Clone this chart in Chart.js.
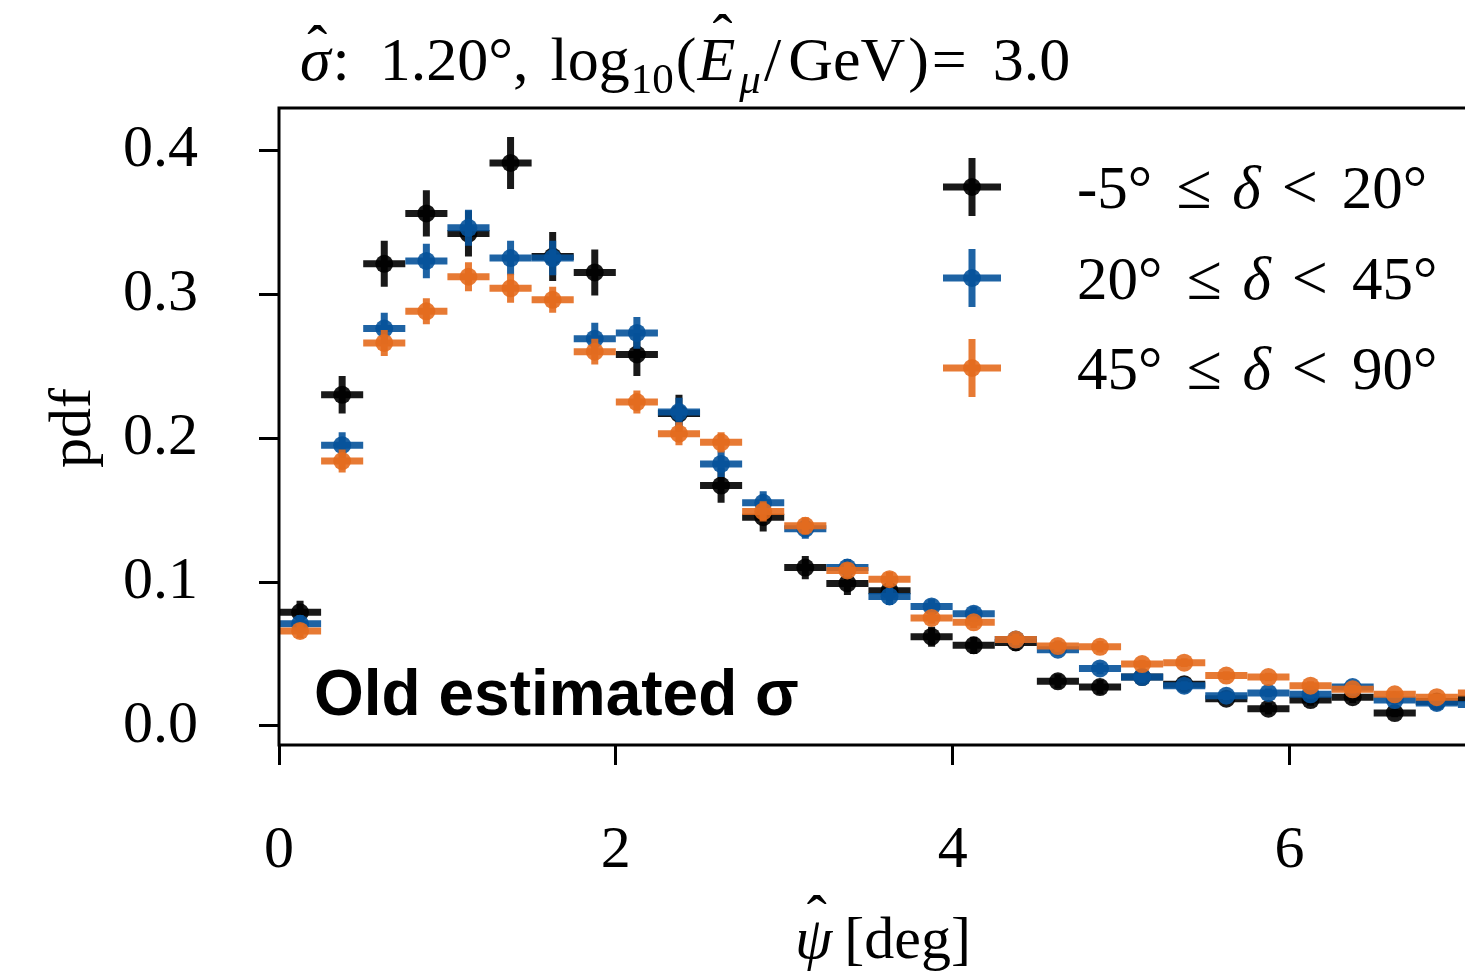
<!DOCTYPE html>
<html>
<head>
<meta charset="utf-8">
<script src="https://cdn.jsdelivr.net/npm/chart.js@4.4.1/dist/chart.umd.min.js"></script>
<style>
  html, body { margin: 0; padding: 0; background: #fff; overflow: hidden; }
  #wrap { width: 1520px; height: 975px; }
</style>
</head>
<body>
<div id="wrap"><canvas id="c" width="1520" height="975"></canvas></div>
<script>
// bin centres (deg), bins are 0.25 wide
const binCenters = [0.125, 0.375, 0.625, 0.875, 1.125, 1.375, 1.625, 1.875, 2.125, 2.375,
  2.625, 2.875, 3.125, 3.375, 3.625, 3.875, 4.125, 4.375, 4.625, 4.875,
  5.125, 5.375, 5.625, 5.875, 6.125, 6.375, 6.625, 6.875, 7.125];
const binHalf = 0.125;

// -5 <= dec < 20
const pdfLow = [0.079, 0.230, 0.321, 0.356, 0.342, 0.391, 0.326, 0.315, 0.258, 0.217,
  0.167, 0.145, 0.110, 0.099, 0.094, 0.062, 0.056, 0.058, 0.031, 0.027,
  0.034, 0.029, 0.019, 0.012, 0.018, 0.020, 0.009, 0.017, 0.019];
const errLow = [0.008, 0.013, 0.016, 0.016, 0.016, 0.018, 0.017, 0.016, 0.015, 0.013,
  0.012, 0.010, 0.008, 0.008, 0.007, 0.007, 0.006, 0.006, 0.005, 0.005,
  0.005, 0.005, 0.004, 0.004, 0.004, 0.004, 0.003, 0.004, 0.004];

// 20 <= dec < 45
const pdfMid = [0.071, 0.195, 0.276, 0.323, 0.346, 0.325, 0.325, 0.269, 0.273, 0.218,
  0.182, 0.155, 0.137, 0.110, 0.090, 0.083, 0.078, 0.060, 0.053, 0.040,
  0.034, 0.028, 0.021, 0.023, 0.022, 0.027, 0.018, 0.016, 0.015];
const errMid = [0.006, 0.009, 0.011, 0.012, 0.0125, 0.012, 0.012, 0.011, 0.011, 0.010,
  0.009, 0.008, 0.007, 0.006, 0.006, 0.005, 0.005, 0.005, 0.004, 0.004,
  0.004, 0.003, 0.003, 0.003, 0.003, 0.003, 0.003, 0.003, 0.003];

// 45 <= dec < 90
const pdfHigh = [0.066, 0.184, 0.266, 0.288, 0.312, 0.304, 0.296, 0.260, 0.225, 0.203,
  0.197, 0.149, 0.139, 0.108, 0.102, 0.075, 0.072, 0.060, 0.0555, 0.055,
  0.043, 0.044, 0.035, 0.034, 0.028, 0.0255, 0.022, 0.020, 0.023];
const errHigh = [0.005, 0.008, 0.009, 0.009, 0.010, 0.010, 0.009, 0.009, 0.008, 0.008,
  0.007, 0.007, 0.006, 0.005, 0.005, 0.004, 0.004, 0.004, 0.004, 0.004,
  0.003, 0.003, 0.003, 0.003, 0.003, 0.003, 0.002, 0.002, 0.002];

const xTicks = [0, 2, 4, 6];
const yTicks = [0.0, 0.1, 0.2, 0.3, 0.4];
const legendRanges = [["-5°", "20°"], ["20°", "45°"], ["45°", "90°"]];

const COLORS = ["rgba(0,0,0,0.9)", "rgba(5,82,154,0.9)", "rgba(228,108,30,0.9)"];
const SERIF = '"Liberation Serif", "DejaVu Serif", serif';
const f = (size, style) => `${style || ""} ${size}px ${SERIF}`;

const pts = arr => arr.map((v, i) => ({ x: binCenters[i], y: v }));

// draw a run of text pieces, each with its own font / offset
function drawRich(ctx, x, y, parts) {
  ctx.textAlign = "left";
  ctx.textBaseline = "alphabetic";
  for (const p of parts) {
    ctx.font = p.font;
    const w = ctx.measureText(p.t).width;
    ctx.fillText(p.t, x, y + (p.dy || 0));
    if (p.hat) {
      ctx.save();
      ctx.font = f(60);
      ctx.textAlign = "center";
      ctx.fillText("ˆ", x + w / 2 + (p.hatDx || 0), y + (p.dy || 0) + p.hat);
      ctx.restore();
    }
    x += w + (p.gap || 0);
  }
  return x;
}

// crosses: horizontal bin width + vertical stat error, drawn under each series' markers
const errorBars = {
  id: "errorBars",
  beforeDatasetDraw(chart, args) {
    const ds = chart.data.datasets[args.index];
    const { x: xs, y: ys } = chart.scales;
    const a = chart.chartArea;
    const ctx = chart.ctx;
    ctx.save();
    ctx.beginPath();
    ctx.rect(a.left, a.top, a.right - a.left, a.bottom - a.top);
    ctx.clip();
    ctx.strokeStyle = ds.backgroundColor;
    ctx.lineWidth = 7;
    ds.data.forEach((p, i) => {
      const e = ds.errors[i];
      ctx.beginPath();
      ctx.moveTo(xs.getPixelForValue(p.x - binHalf), ys.getPixelForValue(p.y));
      ctx.lineTo(xs.getPixelForValue(p.x + binHalf), ys.getPixelForValue(p.y));
      ctx.moveTo(xs.getPixelForValue(p.x), ys.getPixelForValue(p.y - e));
      ctx.lineTo(xs.getPixelForValue(p.x), ys.getPixelForValue(p.y + e));
      ctx.stroke();
    });
    ctx.restore();
  }
};

const decorations = {
  id: "decorations",
  afterDraw(chart) {
    const ctx = chart.ctx;
    const a = chart.chartArea;
    ctx.save();
    // spines
    ctx.strokeStyle = "#000";
    ctx.lineWidth = 3;
    ctx.beginPath();
    ctx.moveTo(a.right, a.top);
    ctx.lineTo(a.left, a.top);
    ctx.lineTo(a.left, a.bottom);
    ctx.lineTo(a.right, a.bottom);
    ctx.stroke();

    ctx.fillStyle = "#000";
    // title
    drawRich(ctx, 300, 80, [
      { t: "σ", font: f(62, "italic"), hat: -14, hatDx: 2, gap: 2 },
      { t: ":", font: f(62), gap: 30 },
      { t: "1.20°,", font: f(62), gap: 22 },
      { t: "log", font: f(62), gap: 1 },
      { t: "10", font: f(43), dy: 13, gap: 2 },
      { t: "(", font: f(62), gap: 1 },
      { t: "E", font: f(62, "italic"), hat: -25, hatDx: 6, gap: 4 },
      { t: "μ", font: f(43, "italic"), dy: 13, gap: 3 },
      { t: "/", font: f(62), gap: 7 },
      { t: "GeV", font: f(62), gap: 3 },
      { t: ")", font: f(62), gap: 3 },
      { t: "=", font: f(62), gap: 26 },
      { t: "3.0", font: f(62) }
    ]);

    // x label
    drawRich(ctx, 795, 958, [
      { t: "ψ", font: f(60, "italic"), hat: -22, hatDx: 3, gap: 12 },
      { t: "[deg]", font: f(60) }
    ]);

    // y label
    ctx.save();
    ctx.translate(90, 428);
    ctx.rotate(-Math.PI / 2);
    ctx.font = f(60);
    ctx.textAlign = "center";
    ctx.textBaseline = "alphabetic";
    ctx.fillText("pdf", 0, 0);
    ctx.restore();

    // annotation
    ctx.font = 'bold 64px "Liberation Sans", Arial, sans-serif';
    ctx.textAlign = "left";
    ctx.fillText("Old estimated σ", 314, 715);

    // legend
    const lx = 972, rows = [187, 278, 368];
    rows.forEach((ry, i) => {
      ctx.strokeStyle = COLORS[i];
      ctx.fillStyle = COLORS[i];
      ctx.lineWidth = 7;
      ctx.beginPath();
      ctx.moveTo(lx - 29, ry); ctx.lineTo(lx + 29, ry);
      ctx.moveTo(lx, ry - 29); ctx.lineTo(lx, ry + 29);
      ctx.stroke();
      ctx.beginPath();
      ctx.arc(lx, ry, 9, 0, Math.PI * 2);
      ctx.fill();
      ctx.fillStyle = "#000";
      const [lo, hi] = legendRanges[i];
      drawRich(ctx, 1077, ry + 21, [
        { t: lo, font: f(61), gap: 24 },
        { t: "≤", font: f(64), gap: 21 },
        { t: "δ", font: f(61, "italic"), gap: 21 },
        { t: "<", font: f(64), gap: 24 },
        { t: hi, font: f(61) }
      ]);
    });
    ctx.restore();
  }
};

const mk = (data, err, color, order) => ({
  data: pts(data),
  errors: err,
  backgroundColor: color,
  borderWidth: 0,
  pointRadius: 9,
  pointHoverRadius: 9,
  order
});

new Chart(document.getElementById("c"), {
  type: "scatter",
  data: {
    datasets: [
      mk(pdfLow, errLow, COLORS[0], 3),
      mk(pdfMid, errMid, COLORS[1], 2),
      mk(pdfHigh, errHigh, COLORS[2], 1)
    ]
  },
  options: {
    responsive: false,
    animation: false,
    devicePixelRatio: 1,
    events: [],
    layout: { padding: { top: 108, right: 20, left: 0, bottom: 0 } },
    plugins: { legend: { display: false }, tooltip: { enabled: false } },
    scales: {
      x: {
        type: "linear",
        min: 0,
        max: 7.25,
        afterBuildTicks: s => { s.ticks = xTicks.map(v => ({ value: v })); },
        afterFit: s => { s.height = 230; },
        grid: { drawOnChartArea: false, tickLength: 20, tickWidth: 3, tickColor: "#000" },
        border: { display: false },
        ticks: {
          padding: 50,
          color: "#000",
          font: { family: "Liberation Serif", size: 60 },
          callback: v => String(v)
        }
      },
      y: {
        min: -0.0132,
        max: 0.4292,
        afterBuildTicks: s => { s.ticks = yTicks.map(v => ({ value: v })); },
        afterFit: s => { s.width = 279; },
        grid: { drawOnChartArea: false, tickLength: 20, tickWidth: 3, tickColor: "#000" },
        border: { display: false },
        ticks: {
          padding: 61,
          color: "#000",
          font: { family: "Liberation Serif", size: 60 },
          callback: v => v.toFixed(1)
        }
      }
    }
  },
  plugins: [errorBars, decorations]
});
</script>
</body>
</html>
